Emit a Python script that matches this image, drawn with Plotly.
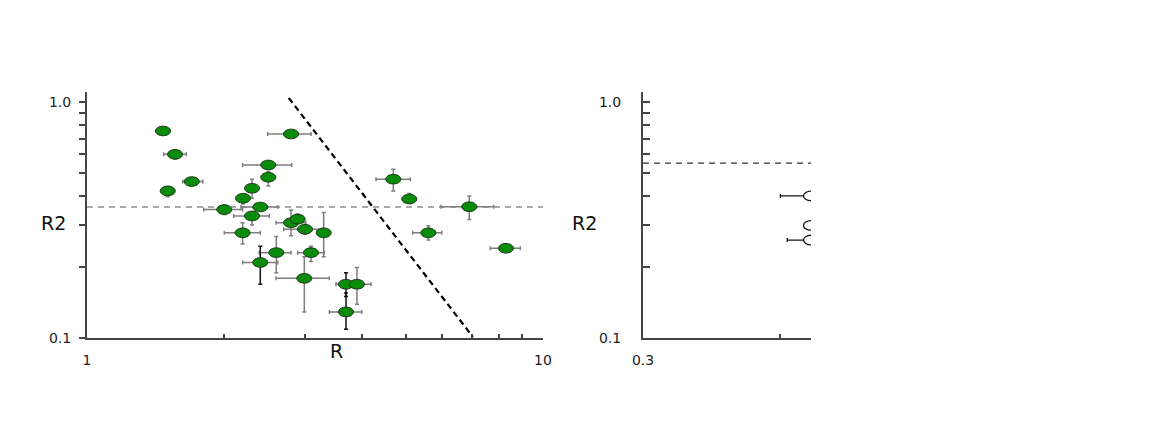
import plotly.graph_objects as go

# left panel: R vs R2, with error bounds
r = [1.468, 2.802, 1.560, 2.498, 2.498, 1.697, 1.503, 2.301, 2.199, 2.000,
     2.399, 2.301, 2.802, 2.897, 2.194, 3.007, 3.304, 2.601, 3.099, 2.399,
     2.996, 3.698, 3.909, 3.698, 4.696, 5.091, 6.892, 5.605, 8.295]
r_lo = [1.468, 2.490, 1.473, 2.194, 2.498, 1.621, 1.503, 2.301, 2.140, 1.803,
        2.176, 2.098, 2.597, 2.860, 2.000, 2.700, 3.270, 2.387, 2.897, 2.194,
        2.597, 3.516, 3.660, 3.400, 4.303, 5.000, 5.975, 5.180, 7.662]
r_hi = [1.468, 3.099, 1.651, 2.811, 2.498, 1.794, 1.503, 2.301, 2.260, 2.194,
        2.620, 2.511, 3.020, 2.940, 2.399, 3.300, 3.340, 2.802, 3.314, 2.620,
        3.400, 3.940, 4.196, 4.004, 5.117, 5.180, 7.796, 5.997, 8.917]
r2 = [0.754, 0.732, 0.600, 0.541, 0.480, 0.460, 0.420, 0.431, 0.391, 0.350,
      0.359, 0.329, 0.308, 0.319, 0.279, 0.289, 0.279, 0.230, 0.230, 0.209,
      0.179, 0.169, 0.169, 0.129, 0.471, 0.388, 0.360, 0.279, 0.240]
r2_lo = [0.754, 0.732, 0.573, 0.530, 0.441, 0.450, 0.397, 0.391, 0.370, 0.334,
         0.359, 0.301, 0.271, 0.305, 0.250, 0.275, 0.221, 0.189, 0.211, 0.169,
         0.129, 0.150, 0.139, 0.109, 0.420, 0.372, 0.318, 0.260, 0.240]
r2_hi = [0.754, 0.732, 0.628, 0.552, 0.507, 0.470, 0.438, 0.471, 0.405, 0.366,
         0.359, 0.343, 0.349, 0.335, 0.308, 0.302, 0.340, 0.269, 0.245, 0.245,
         0.221, 0.189, 0.199, 0.155, 0.519, 0.410, 0.400, 0.299, 0.240]
dark_err = [19, 21, 23]  # indices with black vertical error bars

r2_cut = 0.359                      # horizontal dashed threshold
cut_r = [2.77, 7.02]                # diagonal dashed line
cut_r2 = [1.04, 0.101]

# right panel (mostly clipped in the original)
rb = [0.70, 0.70, 0.70]
rb_lo = [0.600, 0.687, 0.621]
rb2 = [0.40, 0.30, 0.26]
rb2_cut = 0.551

y_ticks = [0.1, 0.2, 0.3, 0.4, 0.5, 0.6, 0.7, 0.8, 0.9, 1.0]
y_text = ['0.1', '', '', '', '', '', '', '', '', '1.0']
x_ticks = [1, 2, 3, 4, 5, 6, 7, 8, 9, 10]
x_text = ['1', '', '', '', '', '', '', '', '', '10']

FONT = "DejaVu Sans"
AX = '#444444'
GREEN = '#0a8c0a'
ERR = '#7e7e7e'

fig = go.Figure()

# horizontal threshold lines
fig.add_trace(go.Scatter(x=[1, 10], y=[r2_cut, r2_cut], mode='lines',
                         line=dict(color='#555555', width=1.2, dash='6px,5px'),
                         xaxis='x', yaxis='y', hoverinfo='skip'))
fig.add_trace(go.Scatter(x=[0.3, 0.7], y=[rb2_cut, rb2_cut], mode='lines',
                         line=dict(color='#333333', width=1.2, dash='6px,5px'),
                         xaxis='x2', yaxis='y2', hoverinfo='skip'))

# diagonal cut
fig.add_trace(go.Scatter(x=cut_r, y=cut_r2, mode='lines',
                         line=dict(color='black', width=2.2, dash='6px,4px'),
                         xaxis='x', yaxis='y', hoverinfo='skip'))

# error bars, grey and dark groups
for dark in (False, True):
    idx = [i for i in range(len(r)) if (i in dark_err) == dark]
    fig.add_trace(go.Scatter(
        x=[r[i] for i in idx], y=[r2[i] for i in idx], mode='markers',
        marker=dict(size=1, color='rgba(0,0,0,0)'),
        error_x=dict(type='data', symmetric=False,
                     array=[r_hi[i] - r[i] for i in idx],
                     arrayminus=[r[i] - r_lo[i] for i in idx],
                     color=ERR, thickness=1.5, width=2),
        error_y=dict(type='data', symmetric=False,
                     array=[r2_hi[i] - r2[i] for i in idx],
                     arrayminus=[r2[i] - r2_lo[i] for i in idx],
                     color='#111111' if dark else ERR, thickness=1.5, width=2),
        xaxis='x', yaxis='y', hoverinfo='skip'))

fig.add_trace(go.Scatter(
    x=rb, y=rb2, mode='markers', marker=dict(size=1, color='rgba(0,0,0,0)'),
    error_x=dict(type='data', symmetric=False, array=[0] * len(rb),
                 arrayminus=[rb[i] - rb_lo[i] for i in range(len(rb))],
                 color='#111111', thickness=1.3, width=2),
    xaxis='x2', yaxis='y2', hoverinfo='skip'))


def ellipse_path(rx, ry):
    # bezier approximation of an ellipse, in pixels around the anchor
    k = 0.5523
    return (f"M {-rx} 0 C {-rx} {k * ry} {-k * rx} {ry} 0 {ry} "
            f"C {k * rx} {ry} {rx} {k * ry} {rx} 0 "
            f"C {rx} {-k * ry} {k * rx} {-ry} 0 {-ry} "
            f"C {-k * rx} {-ry} {-rx} {-k * ry} {-rx} 0 Z")


ELL = ellipse_path(7.5, 4.8)

# ellipse markers as pixel-sized shapes anchored on data
for xv, yv in zip(r, r2):
    fig.add_shape(type='path', path=ELL, xref='x', yref='y',
                  xsizemode='pixel', ysizemode='pixel', xanchor=xv, yanchor=yv,
                  fillcolor=GREEN, line=dict(color='#183418', width=1), layer='above')
for xv, yv in zip(rb, rb2):
    fig.add_shape(type='path', path=ELL, xref='x2', yref='y2',
                  xsizemode='pixel', ysizemode='pixel', xanchor=xv, yanchor=yv,
                  fillcolor='white', line=dict(color='#111111', width=1.3), layer='above')

W, H = 1170, 439
OX, OY = 7, 8   # page offset of the figure inside the browser window


def px_x(px):
    return (px - OX) / W


def px_y(py):
    return 1 - (py - OY) / H


tick_font = dict(family=FONT, size=14, color='#222222')
common = dict(showgrid=False, zeroline=False, showline=True, linecolor=AX, linewidth=2,
              tickcolor=AX, tickwidth=1.5, tickfont=tick_font, type='log', automargin=False)

fig.update_layout(
    width=W, height=H, margin=dict(l=0, r=0, t=0, b=0, autoexpand=False),
    paper_bgcolor='white', plot_bgcolor='white', showlegend=False,
    xaxis=dict(domain=[px_x(86), px_x(542)], range=[0, 1], anchor='y',
               tickvals=x_ticks, ticktext=x_text, ticks='inside', ticklen=4,
               ticklabelstandoff=8, **common),
    yaxis=dict(domain=[px_y(338), px_y(92)], range=[-1, 0.0424], anchor='x',
               tickvals=y_ticks, ticktext=y_text, ticks='outside', ticklen=6,
               ticklabelstandoff=5, **common),
    xaxis2=dict(domain=[px_x(642), px_x(810)], range=[-0.5229, -0.1549], anchor='y2',
                tickvals=[0.3, 0.6], ticktext=['0.3', ''], ticks='inside', ticklen=4,
                ticklabelstandoff=8, **common),
    yaxis2=dict(domain=[px_y(338), px_y(92)], range=[-1, 0.0424], anchor='x2',
                tickvals=y_ticks, ticktext=y_text, ticks='inside', ticklen=7,
                ticklabelstandoff=17, **common),
)

title_font = dict(family=FONT, size=19, color='#111111')
for text, px, py in [('R2', 52, 223), ('R', 335, 351), ('R2', 583, 223)]:
    fig.add_annotation(text=text, xref='paper', yref='paper', x=px_x(px), y=px_y(py),
                       showarrow=False, font=title_font, xanchor='center', yanchor='middle')

fig.write_html("out.html")
